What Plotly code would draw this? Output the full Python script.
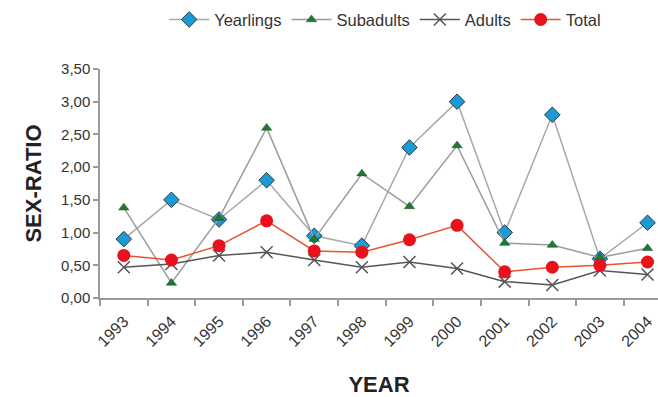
import plotly.graph_objects as go

# Sex-ratio per age class and year
years = ["1993", "1994", "1995", "1996", "1997", "1998",
         "1999", "2000", "2001", "2002", "2003", "2004"]
yearlings = [0.90, 1.50, 1.20, 1.80, 0.95, 0.80, 2.30, 3.00, 1.00, 2.80, 0.60, 1.15]
subadults = [1.38, 0.23, 1.22, 2.60, 0.90, 1.90, 1.40, 2.33, 0.84, 0.81, 0.62, 0.76]
adults = [0.47, 0.52, 0.65, 0.70, 0.58, 0.47, 0.55, 0.45, 0.25, 0.20, 0.42, 0.36]
total = [0.65, 0.58, 0.80, 1.18, 0.72, 0.70, 0.89, 1.11, 0.40, 0.47, 0.50, 0.55]

y_ticks = [0, 0.5, 1.0, 1.5, 2.0, 2.5, 3.0, 3.5]

FONT = "Liberation Sans, Arial, Helvetica, sans-serif"

fig = go.Figure()

fig.add_trace(go.Scatter(
    x=years, y=yearlings, name="Yearlings", mode="lines+markers",
    line=dict(color="#A8A8A8", width=1.5),
    marker=dict(symbol="diamond", size=12, color="#1B9AD6",
                line=dict(color="#2B3A40", width=1)),
))
fig.add_trace(go.Scatter(
    x=years, y=subadults, name="Subadults", mode="lines+markers",
    line=dict(color="#9C9C9C", width=1.5),
    marker=dict(symbol="triangle-up", size=9, color="#1C7A32",
                line=dict(color="#1F4A25", width=0.5)),
))
fig.add_trace(go.Scatter(
    x=years, y=adults, name="Adults", mode="lines+markers",
    line=dict(color="#555555", width=1.5),
    marker=dict(symbol="x-thin-open", size=12,
                line=dict(color="#444444", width=1.5)),
))
fig.add_trace(go.Scatter(
    x=years, y=total, name="Total", mode="lines+markers",
    line=dict(color="#E8552B", width=1.5),
    marker=dict(symbol="circle", size=13, color="#E8121C"),
))

fig.update_layout(
    width=658, height=397,
    margin=dict(l=100, r=0, t=69, b=99),
    paper_bgcolor="white", plot_bgcolor="white",
    separators=", ",
    font=dict(family=FONT, color="#333333", size=15),
    showlegend=True,
    legend=dict(
        orientation="h", x=0.115, xanchor="left", y=1.215, yanchor="middle",
        font=dict(size=16.5, color="#333333"), itemwidth=40,
        bgcolor="rgba(0,0,0,0)",
    ),
)

fig.update_xaxes(
    type="category", categoryorder="array", categoryarray=years,
    range=[-0.5, 11.22],
    showline=True, linecolor="#9A9A9A", linewidth=1.5,
    ticks="outside", tickson="boundaries", ticklen=6,
    tickcolor="#9A9A9A", tickwidth=1.5,
    tickangle=-45, tickfont=dict(size=16, color="#333333"),
    ticklabelstandoff=6,
    showgrid=False, zeroline=False,
    title=dict(text="<b>YEAR</b>", font=dict(size=22, color="#222222"), standoff=29),
)

fig.update_yaxes(
    range=[0, 3.5], tickvals=y_ticks, tickformat=".2f",
    showline=True, linecolor="#9A9A9A", linewidth=1.5,
    ticks="outside", ticklen=5, tickcolor="#9A9A9A", tickwidth=1.5,
    tickfont=dict(size=15, color="#333333"),
    showgrid=False, zeroline=False,
    title=dict(text="<b>SEX-RATIO</b>", font=dict(size=22, color="#222222"), standoff=13),
)

fig.write_html("out.html")
